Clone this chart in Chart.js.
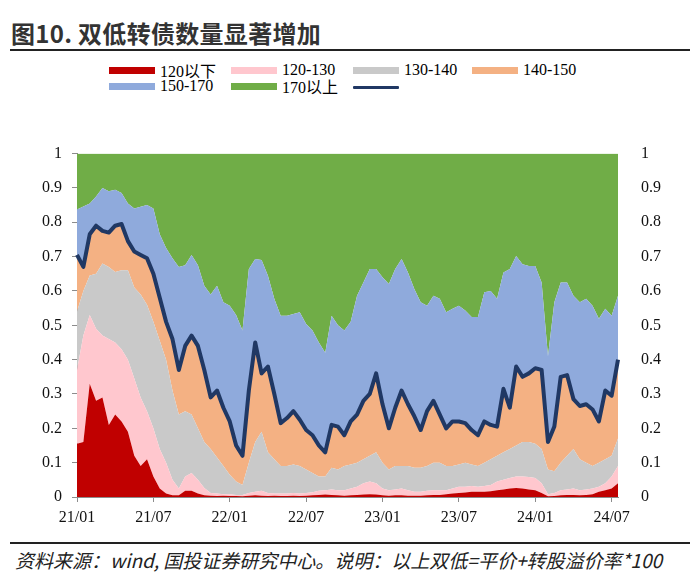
<!DOCTYPE html>
<html>
<head>
<meta charset="utf-8">
<script src="https://cdn.jsdelivr.net/npm/chart.js@4/dist/chart.umd.min.js"></script>
<style>
  body { margin: 0; background: #fff; width: 700px; height: 581px; position: relative; overflow: hidden;
         font-family: "Liberation Serif", "Noto Sans CJK SC", serif; }
  #title { position: absolute; left: 11px; top: 15px; font: bold 24px "Noto Sans CJK SC", sans-serif; color: #333; white-space: nowrap; letter-spacing: 0.3px; }
  .rule { position: absolute; left: 10px; width: 680px; height: 2px; background: #222; }
  .leg { position: absolute; display: flex; align-items: center; height: 16px; font-size: 16px; color: #000; white-space: nowrap; }
  .leg i { display: inline-block; width: 46px; height: 7px; margin-right: 5px; }
  .leg i.line { height: 3px; border-radius: 1px; }
  #foot { position: absolute; left: 15px; top: 546px; font: italic 19px "Noto Sans CJK SC", sans-serif; color: #222; white-space: nowrap; }
  canvas { position: absolute; left: 0; top: 129px; }
</style>
</head>
<body>
<div id="title">图10. 双低转债数量显著增加</div>
<div class="rule" style="top:49px"></div>
<div id="legend"></div>
<canvas id="myChart" width="700" height="411"></canvas>
<div class="rule" style="top:542px"></div>
<div id="foot">资料来源：wind, 国投证券研究中心。说明：以上双低=平价+转股溢价率*100</div>

<script>
// half-monthly observations, 2021-01 .. 2024-07
const dates = [
  "2021-01-01","2021-01-16","2021-02-01","2021-02-16","2021-03-01","2021-03-16","2021-04-01","2021-04-16",
  "2021-05-01","2021-05-16","2021-06-01","2021-06-16","2021-07-01","2021-07-16","2021-08-01","2021-08-16",
  "2021-09-01","2021-09-16","2021-10-01","2021-10-16","2021-11-01","2021-11-16","2021-12-01","2021-12-16",
  "2022-01-01","2022-01-16","2022-02-01","2022-02-16","2022-03-01","2022-03-16","2022-04-01","2022-04-16",
  "2022-05-01","2022-05-16","2022-06-01","2022-06-16","2022-07-01","2022-07-16","2022-08-01","2022-08-16",
  "2022-09-01","2022-09-16","2022-10-01","2022-10-16","2022-11-01","2022-11-16","2022-12-01","2022-12-16",
  "2023-01-01","2023-01-16","2023-02-01","2023-02-16","2023-03-01","2023-03-16","2023-04-01","2023-04-16",
  "2023-05-01","2023-05-16","2023-06-01","2023-06-16","2023-07-01","2023-07-16","2023-08-01","2023-08-16",
  "2023-09-01","2023-09-16","2023-10-01","2023-10-16","2023-11-01","2023-11-16","2023-12-01","2023-12-16",
  "2024-01-01","2024-01-16","2024-02-01","2024-02-16","2024-03-01","2024-03-16","2024-04-01","2024-04-16",
  "2024-05-01","2024-05-16","2024-06-01","2024-06-16","2024-07-01","2024-07-16"
];
const xTicks = ["21/01", "21/07", "22/01", "22/07", "23/01", "23/07", "24/01", "24/07"];

// cumulative share (upper edge of each band)
const top120 = [
  0.155, 0.16, 0.33, 0.28, 0.29, 0.21, 0.24, 0.22, 0.19, 0.12,
  0.09, 0.11, 0.06, 0.025, 0.01, 0.005, 0.005, 0.018, 0.018, 0.01,
  0.005, 0.004, 0.003, 0.004, 0.003, 0.003, 0.002, 0.004, 0.005, 0.004,
  0.003, 0.004, 0.003, 0.003, 0.004, 0.003, 0.004, 0.005, 0.006, 0.007,
  0.006, 0.005, 0.004, 0.005, 0.006, 0.007, 0.008, 0.007, 0.005, 0.004,
  0.005, 0.005, 0.004, 0.004, 0.004, 0.005, 0.006, 0.006, 0.008, 0.01,
  0.012, 0.013, 0.015, 0.015, 0.015, 0.017, 0.02, 0.022, 0.025, 0.026,
  0.025, 0.022, 0.02, 0.012, 0.002, 0.003, 0.005, 0.006, 0.006, 0.005,
  0.006, 0.008, 0.015, 0.02, 0.025, 0.04
];
const top130 = [
  0.37, 0.47, 0.53, 0.49, 0.47, 0.46, 0.45, 0.43, 0.40, 0.345,
  0.29, 0.25, 0.20, 0.14, 0.10, 0.05, 0.025, 0.06, 0.07, 0.05,
  0.026, 0.012, 0.01, 0.008, 0.008, 0.006, 0.006, 0.012, 0.015, 0.018,
  0.012, 0.01, 0.01, 0.01, 0.012, 0.01, 0.012, 0.014, 0.018, 0.02,
  0.022, 0.02, 0.02, 0.025, 0.03, 0.04, 0.045, 0.04, 0.025, 0.02,
  0.022, 0.025, 0.02, 0.015, 0.015, 0.018, 0.02, 0.02, 0.02, 0.025,
  0.03, 0.03, 0.032, 0.03, 0.032, 0.035, 0.045, 0.05, 0.055, 0.06,
  0.06, 0.058, 0.055, 0.04, 0.008, 0.012, 0.02, 0.022, 0.025, 0.02,
  0.022, 0.025, 0.03, 0.04, 0.06, 0.09
];
const top140 = [
  0.54, 0.60, 0.645, 0.65, 0.68, 0.67, 0.655, 0.66, 0.66, 0.61,
  0.59, 0.56, 0.51, 0.455, 0.40, 0.31, 0.24, 0.25, 0.24, 0.20,
  0.16, 0.14, 0.115, 0.09, 0.065, 0.045, 0.035, 0.10, 0.16, 0.19,
  0.13, 0.11, 0.09, 0.09, 0.095, 0.09, 0.08, 0.07, 0.06, 0.06,
  0.085, 0.08, 0.09, 0.095, 0.10, 0.11, 0.12, 0.13, 0.10, 0.08,
  0.09, 0.09, 0.09, 0.085, 0.085, 0.09, 0.10, 0.10, 0.09, 0.09,
  0.095, 0.10, 0.095, 0.09, 0.10, 0.11, 0.12, 0.13, 0.14, 0.15,
  0.16, 0.16, 0.155, 0.14, 0.08, 0.075, 0.10, 0.12, 0.14, 0.11,
  0.10, 0.09, 0.10, 0.11, 0.12, 0.17
];
// upper edge of 140-150 = the dark line
const top150 = [
  0.705, 0.67, 0.765, 0.79, 0.775, 0.77, 0.79, 0.795, 0.745, 0.715,
  0.705, 0.695, 0.65, 0.58, 0.51, 0.46, 0.37, 0.44, 0.47, 0.44,
  0.37, 0.29, 0.31, 0.26, 0.22, 0.15, 0.12, 0.31, 0.45, 0.36,
  0.38, 0.30, 0.215, 0.23, 0.25, 0.225, 0.195, 0.18, 0.15, 0.13,
  0.21, 0.205, 0.18, 0.22, 0.24, 0.28, 0.30, 0.36, 0.27, 0.20,
  0.26, 0.31, 0.27, 0.235, 0.195, 0.25, 0.28, 0.24, 0.20, 0.22,
  0.22, 0.215, 0.195, 0.18, 0.22, 0.21, 0.205, 0.315, 0.26, 0.38,
  0.35, 0.36, 0.375, 0.37, 0.16, 0.205, 0.35, 0.355, 0.285, 0.265,
  0.27, 0.255, 0.22, 0.31, 0.295, 0.40
];
const top170 = [
  0.837, 0.846, 0.855, 0.875, 0.90, 0.89, 0.895, 0.885, 0.855, 0.84,
  0.845, 0.85, 0.84, 0.765, 0.725, 0.695, 0.67, 0.675, 0.705, 0.675,
  0.615, 0.59, 0.615, 0.567, 0.557, 0.53, 0.485, 0.664, 0.693, 0.69,
  0.644, 0.577, 0.528, 0.528, 0.533, 0.538, 0.504, 0.485, 0.45, 0.42,
  0.528, 0.50, 0.485, 0.51, 0.586, 0.625, 0.664, 0.664, 0.64, 0.62,
  0.664, 0.693, 0.654, 0.606, 0.567, 0.557, 0.586, 0.577, 0.538, 0.548,
  0.557, 0.543, 0.524, 0.524, 0.596, 0.60, 0.577, 0.654, 0.664, 0.702,
  0.678, 0.673, 0.673, 0.625, 0.41, 0.567, 0.625, 0.625, 0.586, 0.567,
  0.577, 0.557, 0.519, 0.548, 0.528, 0.586
];

const bands = [
  { label: "120以下", data: top120, color: "#C00000", fill: "origin" },
  { label: "120-130", data: top130, color: "#FFC7CE", fill: "-1" },
  { label: "130-140", data: top140, color: "#C9C9C9", fill: "-1" },
  { label: "140-150", data: top150, color: "#F4B183", fill: "-1" },
  { label: "150-170", data: top170, color: "#8FAADC", fill: "-1" },
  { label: "170以上", data: top170, color: "#70AD47", fill: "end" },
];
const lineColor = "#203864";

// html legend, 4 columns
const legendCols = [109, 231, 353, 472];
let legendHtml = "";
bands.forEach((b, i) => {
  const x = legendCols[i % 4], y = i < 4 ? 62 : 78;
  legendHtml += `<div class="leg" style="left:${x}px;top:${y}px"><i style="background:${b.color}"></i>${b.label}</div>`;
});
legendHtml += `<div class="leg" style="left:${legendCols[2]}px;top:79px"><i class="line" style="background:${lineColor}"></i></div>`;
document.querySelector("#legend").innerHTML = legendHtml;

const tickFont = { family: "'Liberation Serif', 'Times New Roman', serif", size: 16 };
const fmt = (v) => (v === 0 || v === 1 ? String(v) : v.toFixed(1));

let ctx = document.querySelector("#myChart");
new Chart(ctx, {
  type: "line",
  data: {
    labels: dates,
    datasets: [
      ...bands.map((b) => ({
        label: b.label,
        data: b.data,
        backgroundColor: b.color,
        borderColor: b.color,
        borderWidth: 0,
        pointRadius: 0,
        tension: 0,
        fill: b.fill,
      })),
      {
        label: "",
        data: top150,
        borderColor: lineColor,
        borderWidth: 4,
        borderJoinStyle: "round",
        pointRadius: 0,
        tension: 0,
        fill: false,
        order: -1,
      },
    ],
  },
  options: {
    responsive: false,
    animation: false,
    devicePixelRatio: 1,
    layout: { padding: { top: 1, bottom: 13, left: 0, right: 0 } },
    plugins: { legend: { display: false }, tooltip: { enabled: false } },
    scales: {
      x: {
        offset: false,
        grid: { drawOnChartArea: false, tickLength: 5, color: "#8c8c8c" },
        border: { color: "#8c8c8c" },
        ticks: {
          autoSkip: false,
          maxRotation: 0,
          padding: 6,
          color: "#111",
          font: tickFont,
          callback: function (value) {
            const d = dates[value];
            const lbl = d.slice(2, 4) + "/" + d.slice(5, 7);
            return d.endsWith("-01") && xTicks.includes(lbl) ? lbl : null;
          },
        },
        afterFit: (scale) => { scale.height = 30; },
      },
      y: {
        min: 0,
        max: 1,
        position: "left",
        grid: { drawOnChartArea: false, tickLength: 5, color: "#8c8c8c" },
        border: { color: "#8c8c8c" },
        ticks: { stepSize: 0.1, padding: 10, color: "#111", font: tickFont, callback: fmt },
        afterFit: (scale) => { scale.width = 77; },
      },
      y2: {
        axis: "y",
        min: 0,
        max: 1,
        position: "right",
        display: true,
        grid: { display: false },
        border: { display: false },
        ticks: { stepSize: 0.1, padding: 15, color: "#111", font: tickFont, callback: fmt },
        afterFit: (scale) => { scale.width = 82; },
      },
    },
  },
});
</script>
</body>
</html>
